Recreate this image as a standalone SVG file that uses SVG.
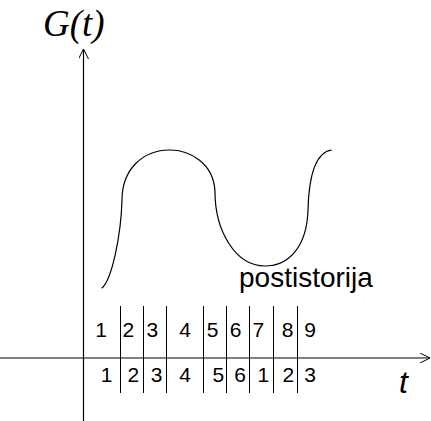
<svg xmlns="http://www.w3.org/2000/svg" width="431" height="421" viewBox="0 0 431 421">
<style>
.ax{stroke:#000;stroke-width:1.2;fill:none}
.sep{stroke:#000;stroke-width:1;fill:none}
.num{font-family:"Liberation Sans",Arial,sans-serif;font-size:21px;fill:#000;text-anchor:middle}
.lbl{font-family:"Liberation Sans",Arial,sans-serif;font-size:28px;fill:#000}
.ttl{font-family:"Liberation Serif","Times New Roman",serif;font-style:italic;font-size:37px;fill:#000}
.tt{font-family:"Liberation Sans",Arial,sans-serif;font-style:italic;font-size:32px;fill:#000}
</style>
<defs>
<marker id="arr" viewBox="0 0 10 10" refX="10" refY="5" markerWidth="10" markerHeight="10" markerUnits="userSpaceOnUse" orient="auto">
<path d="M0,0 L10,5 L0,10" fill="none" stroke="#000" stroke-width="1"/>
</marker>
</defs>
<rect width="431" height="421" fill="#fff"/>
<g id="connectors">
<line class="ax" x1="83.5" y1="421" x2="83.5" y2="49" marker-end="url(#arr)"/>
<line class="ax" x1="0" y1="358" x2="430" y2="358" marker-end="url(#arr)"/>
<path class="sep" d="M120.5,306V393M143.5,306V393M166.5,306V393M203.5,306V393M226.5,306V393M249.5,306V393M273.5,306V393M297.5,306V393"/>
<path class="ax" d="M101.7,288.3 C112,280 121,235 122,200 C122,170 142,150 170,150 C188,150 214,162 215,192 C215,230 235,266 265,266 C290,266 307,245 308,210 C309,172 317,152 331.7,150"/>
</g>
<g id="title"><text class="ttl" x="43" y="36">G(t)</text></g>
<g id="label-post"><text class="lbl" x="239" y="287">postistorija</text></g>
<g id="label-t"><text class="tt" x="399" y="393">t</text></g>
<g id="top-row">
<text class="num" x="101.2" y="337">1</text>
<text class="num" x="128.3" y="337">2</text>
<text class="num" x="152.3" y="337">3</text>
<text class="num" x="185" y="337">4</text>
<text class="num" x="212.7" y="337">5</text>
<text class="num" x="235.7" y="337">6</text>
<text class="num" x="258.3" y="337">7</text>
<text class="num" x="287.7" y="337">8</text>
<text class="num" x="310" y="337">9</text>
</g>
<g id="bottom-row">
<text class="num" x="106.7" y="382">1</text>
<text class="num" x="133.3" y="382">2</text>
<text class="num" x="156.7" y="382">3</text>
<text class="num" x="185" y="382">4</text>
<text class="num" x="218.3" y="382">5</text>
<text class="num" x="240" y="382">6</text>
<text class="num" x="263.3" y="382">1</text>
<text class="num" x="288.3" y="382">2</text>
<text class="num" x="310" y="382">3</text>
</g>
</svg>
